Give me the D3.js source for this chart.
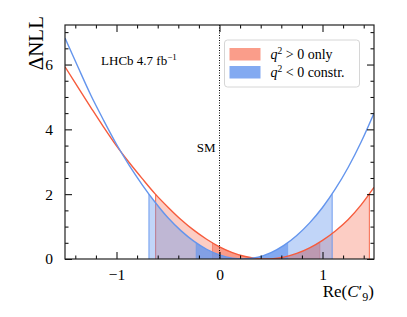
<!DOCTYPE html>
<meta charset="utf-8">
<style>
body { margin: 0; background: #fff; }
text { font-family: "Liberation Serif", "DejaVu Serif", serif; fill: #000; }
</style>
<svg width="407" height="317"></svg>
<script src="https://d3js.org/d3.v7.min.js"></script>
<script>
// Delta NLL scans
var redX  = [-1.5, -1.375, -1.25, -1.125, -1.0, -0.875, -0.75, -0.625, -0.5, -0.375, -0.25, -0.125, 0, 0.125, 0.25, 0.375, 0.45, 0.5, 0.625, 0.75, 0.875, 1.0, 1.125, 1.25, 1.375, 1.5];
var redY  = [5.93, 5.30, 4.68, 4.07, 3.49, 2.97, 2.48, 2.01, 1.60, 1.22, 0.89, 0.61, 0.377, 0.199, 0.076, 0.011, 0, 0.005, 0.058, 0.171, 0.343, 0.575, 0.866, 1.22, 1.67, 2.21];
var blueX = [-1.5, -1.375, -1.25, -1.125, -1.0, -0.875, -0.75, -0.625, -0.5, -0.375, -0.25, -0.125, 0, 0.125, 0.23, 0.375, 0.5, 0.625, 0.75, 0.875, 1.0, 1.125, 1.25, 1.375, 1.5];
var blueY = [6.82, 5.93, 5.06, 4.28, 3.54, 2.88, 2.29, 1.75, 1.27, 0.875, 0.551, 0.301, 0.126, 0.026, 0, 0.056, 0.195, 0.418, 0.725, 1.115, 1.59, 2.16, 2.83, 3.61, 4.50];

// intervals: [lo, hi] at the levels below
var levels = [2, 0.5];
var redIntervals  = [[-0.62, 1.455], [-0.068, 0.974]];
var blueIntervals = [[-0.685, 1.094], [-0.227, 0.662]];

var xTicks = [-1, 0, 1];
var xTickLabels = ["\u22121", "0", "1"];
var yTicks = [0, 2, 4, 6];
var legendLabels = [" > 0 only", " < 0 constr."];

var svg = d3.select("svg"),
    margin = {top: 25, right: 33, bottom: 58, left: 65},
    width = +svg.attr("width") - margin.left - margin.right,
    height = +svg.attr("height") - margin.top - margin.bottom;

var x = d3.scaleLinear().domain([-1.5, 1.5]).range([0, width]);
var y = d3.scaleLinear().domain([0, 7.22]).range([height, 0]);

var g = svg.append("g")
    .attr("transform", "translate(" + margin.left + "," + margin.top + ")");

var defs = svg.append("defs");
defs.append("clipPath").attr("id", "plotclip")
  .append("rect").attr("width", width).attr("height", height);

var series = [
  {name: "red",  xs: redX,  ys: redY,  iv: redIntervals,  color: "#f65b3c", alphas: [0.3, 0.43]},
  {name: "blue", xs: blueX, ys: blueY, iv: blueIntervals, color: "#6495ed", alphas: [0.4, 0.67]}
];

var area = d3.area()
    .x(function(d) { return x(d[0]); })
    .y0(y(0))
    .y1(function(d) { return y(d[1]); })
    .curve(d3.curveMonotoneX);
var line = d3.line()
    .x(function(d) { return x(d[0]); })
    .y(function(d) { return y(d[1]); })
    .curve(d3.curveMonotoneX);

var plot = g.append("g").attr("clip-path", "url(#plotclip)");

series.forEach(function(s) {
  s.pts = s.xs.map(function(v, i) { return [v, s.ys[i]]; });
  s.iv.forEach(function(iv, k) {
    var id = "clip-" + s.name + k;
    defs.append("clipPath").attr("id", id)
      .append("rect")
        .attr("x", x(iv[0])).attr("y", -10)
        .attr("width", x(iv[1]) - x(iv[0])).attr("height", height + 20);
    plot.append("path")
        .datum(s.pts)
        .attr("d", area)
        .attr("fill", s.color)
        .attr("fill-opacity", s.alphas[k])
        .attr("clip-path", "url(#" + id + ")");
    iv.forEach(function(v) {
      plot.append("line")
          .attr("x1", x(v)).attr("x2", x(v))
          .attr("y1", y(0)).attr("y2", y(levels[k]))
          .attr("stroke", s.color)
          .attr("stroke-opacity", k === 0 ? 0.9 : 0.5)
          .attr("stroke-width", 1);
    });
  });
});

series.forEach(function(s) {
  plot.append("path")
      .datum(s.pts)
      .attr("d", line)
      .attr("fill", "none")
      .attr("stroke", s.color)
      .attr("stroke-width", 1.4);
});

// SM line
g.append("line")
    .attr("x1", x(0)).attr("x2", x(0))
    .attr("y1", 0).attr("y2", height)
    .attr("stroke", "#000").attr("stroke-width", 1)
    .attr("stroke-dasharray", "1,1.5");
g.append("text")
    .attr("x", x(0) - 4).attr("y", y(3.3))
    .attr("text-anchor", "end")
    .style("font-size", "13px")
    .text("SM");

var lhcb = g.append("text")
    .attr("x", x(-1.15)).attr("y", y(5.98))
    .style("font-size", "13px")
    .text("LHCb 4.7 fb");
lhcb.append("tspan").attr("dy", -5).style("font-size", "9px").text("\u22121");

// axes with inward ticks
var minorX = d3.range(-1.4, 1.5, 0.2).filter(function(v) { return Math.abs(Math.round(v) - v) > 1e-6; });
var minorY = d3.range(0.5, 7.2, 0.5).filter(function(v) { return v % 2 !== 0; });

function addAxis(axis, cls, tr) {
  var a = g.append("g").attr("class", cls).attr("transform", tr).call(axis);
  a.select(".domain").remove();
  a.selectAll("line").attr("stroke", "#000").attr("stroke-width", 1);
  return a;
}
addAxis(d3.axisBottom(x).tickValues(xTicks).tickSize(-7).tickPadding(10)
    .tickFormat(function(d, i) { return xTickLabels[i]; }), "x axis", "translate(0," + height + ")");
addAxis(d3.axisBottom(x).tickValues(minorX).tickSize(-3.5).tickFormat(""), "x minor", "translate(0," + height + ")");
addAxis(d3.axisTop(x).tickValues(xTicks).tickSize(-7).tickFormat(""), "x top", "translate(0,0)");
addAxis(d3.axisTop(x).tickValues(minorX).tickSize(-3.5).tickFormat(""), "x top minor", "translate(0,0)");
addAxis(d3.axisLeft(y).tickValues(yTicks).tickSize(-7).tickPadding(12), "y axis", "translate(0,0)");
addAxis(d3.axisLeft(y).tickValues(minorY).tickSize(-3.5).tickFormat(""), "y minor", "translate(0,0)");
addAxis(d3.axisRight(y).tickValues(yTicks).tickSize(-7).tickFormat(""), "y right", "translate(" + width + ",0)");
addAxis(d3.axisRight(y).tickValues(minorY).tickSize(-3.5).tickFormat(""), "y right minor", "translate(" + width + ",0)");

g.selectAll(".axis text")
    .style("font-family", "'Liberation Serif', serif")
    .style("font-size", "15.5px")
    .attr("fill", "#000");

g.append("rect")
    .attr("width", width).attr("height", height)
    .attr("fill", "none").attr("stroke", "#222").attr("stroke-width", 1.2);

// axis titles
g.append("text")
    .attr("transform", "translate(" + (-22) + ",-9) rotate(-90)")
    .attr("text-anchor", "end")
    .style("font-size", "21px")
    .text("\u0394NLL");

var xl = g.append("text")
    .attr("x", width).attr("y", height + 38)
    .attr("text-anchor", "end")
    .style("font-size", "17px");
xl.append("tspan").text("Re(");
xl.append("tspan").style("font-style", "italic").text("C");
xl.append("tspan").text("\u2032");
xl.append("tspan").attr("dy", 4).style("font-size", "12px").text("9");
xl.append("tspan").attr("dy", -4).text(")");

// legend
var lg = g.append("g").attr("transform", "translate(" + (x(0) + 5) + ",15)");
lg.append("rect")
    .attr("width", 135).attr("height", 47).attr("rx", 3)
    .attr("fill", "#fff").attr("fill-opacity", 0.85)
    .attr("stroke", "#d6d6d6").attr("stroke-width", 1);
series.forEach(function(s, i) {
  var row = lg.append("g").attr("transform", "translate(5," + (8 + i * 18) + ")");
  row.append("rect")
      .attr("width", 31).attr("height", 12.5)
      .attr("fill", s.color).attr("fill-opacity", i === 0 ? 0.6 : 0.8);
  var t = row.append("text").attr("x", 41).attr("y", 11).style("font-size", "14px");
  t.append("tspan").style("font-style", "italic").text("q");
  t.append("tspan").attr("dy", -5.5).style("font-size", "9.5px").text("2");
  t.append("tspan").attr("dy", 5.5).text(legendLabels[i]);
});
</script>
